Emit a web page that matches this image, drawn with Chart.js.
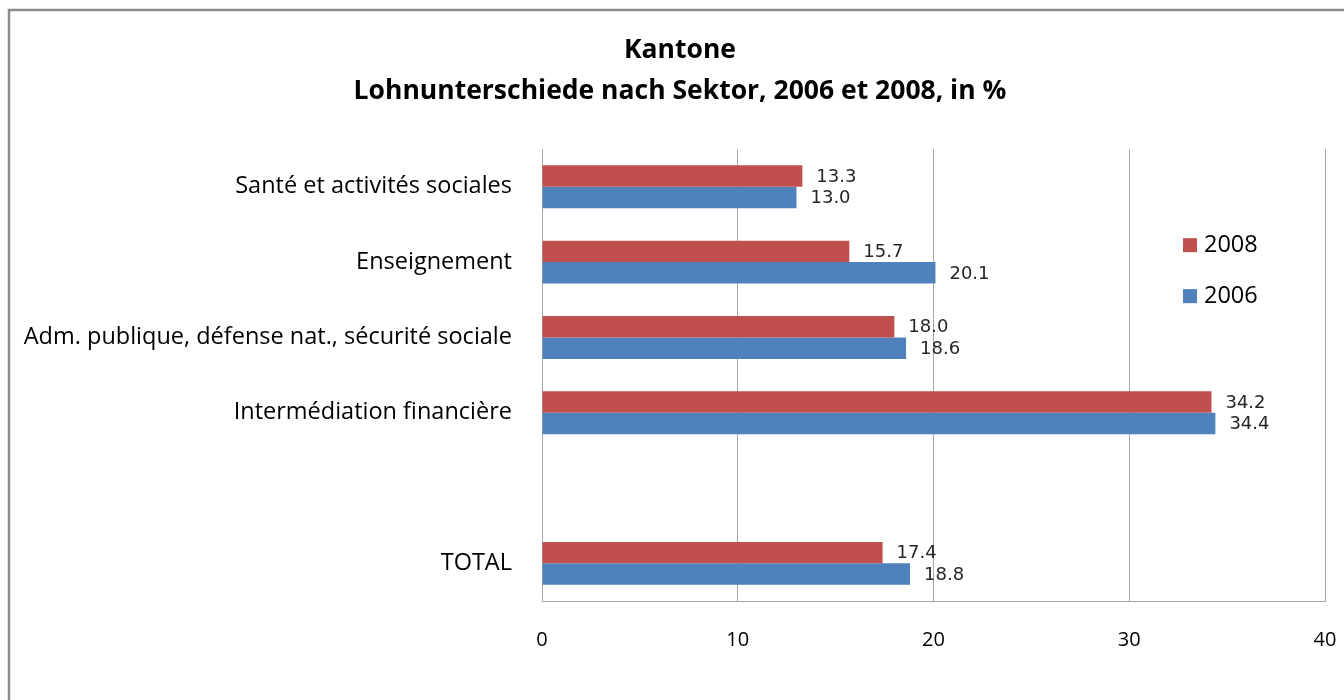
<!DOCTYPE html>
<html>
<head>
<meta charset="utf-8">
<script src="https://cdn.jsdelivr.net/npm/chart.js@4.4.0/dist/chart.umd.min.js"></script>
<style>
  body { margin: 0; background: #fff; }
  canvas { display: block; }
</style>
</head>
<body>
<canvas id="myChart" width="1344" height="700"></canvas>
<script>
const categories = ['Santé et activités sociales', 'Enseignement', 'Adm. publique, défense nat., sécurité sociale', 'Intermédiation financière', '', 'TOTAL'];
const values2008 = [13.3, 15.7, 18.0, 34.2, null, 17.4];
const values2006 = [13.0, 20.1, 18.6, 34.4, null, 18.8];
const seriesNames = ['2008', '2006'];
const xTicks = [0, 10, 20, 30, 40];

const textFont = '"Open Sans"';

// grey frame round the whole chart
const framePlugin = {
    id: 'frame',
    beforeDraw(chart) {
        const ctx = chart.ctx;
        ctx.save();
        ctx.fillStyle = '#fff';
        ctx.fillRect(0, 0, chart.width, chart.height);
        ctx.strokeStyle = '#8c8c8c';
        ctx.lineWidth = 2.5;
        ctx.strokeRect(9, 10, 1400, 800);
        ctx.restore();
    }
};

// the frame goes on past the right edge, so the title sits a bit right of the middle
const titleShift = {
    id: 'titleShift',
    afterLayout(chart) {
        if (chart.titleBlock) chart.titleBlock.left = 35;
    }
};

// value labels at the end of each bar
const valueLabels = {
    id: 'valueLabels',
    afterDatasetsDraw(chart) {
        const ctx = chart.ctx;
        ctx.save();
        ctx.font = '18px "DejaVu Sans"';
        ctx.fillStyle = '#262626';
        ctx.textAlign = 'left';
        ctx.textBaseline = 'middle';
        chart.data.datasets.forEach((ds, i) => {
            chart.getDatasetMeta(i).data.forEach((bar, j) => {
                const v = ds.data[j];
                if (v === null) return;
                ctx.fillText(v.toFixed(1), bar.x + 14, bar.y + 1);
            });
        });
        ctx.restore();
    }
};

// legend drawn inside the plot area on the right
const innerLegend = {
    id: 'innerLegend',
    afterDraw(chart) {
        const ctx = chart.ctx;
        const area = chart.chartArea;
        ctx.save();
        ctx.font = '23.5px ' + textFont;
        ctx.textBaseline = 'middle';
        ctx.textAlign = 'left';
        chart.data.datasets.forEach((ds, i) => {
            const x = area.right - 142;
            const y = area.top + 96 + i * 51;
            ctx.fillStyle = ds.backgroundColor;
            ctx.fillRect(x, y - 7, 14, 14);
            ctx.fillStyle = '#000';
            ctx.fillText(ds.label, x + 21, y);
        });
        ctx.restore();
    }
};

const ctx = document.getElementById('myChart');

new Chart(ctx, {
    type: 'bar',
    data: {
        labels: categories,
        datasets: [{
            label: seriesNames[0],
            data: values2008,
            backgroundColor: '#C0504D',
            categoryPercentage: 0.57,
            barPercentage: 1
        }, {
            label: seriesNames[1],
            data: values2006,
            backgroundColor: '#4F81BD',
            categoryPercentage: 0.57,
            barPercentage: 1
        }]
    },
    options: {
        indexAxis: 'y',
        responsive: false,
        animation: false,
        layout: {
            padding: { left: 0, right: 19, top: 0, bottom: 0 }
        },
        plugins: {
            legend: { display: false },
            tooltip: { enabled: false },
            title: {
                display: true,
                text: ['Kantone', 'Lohnunterschiede nach Sektor, 2006 et 2008, in %'],
                color: '#000',
                font: { family: textFont, size: 26.5, weight: 'bold', lineHeight: 1.55 },
                padding: { top: 30, bottom: 37 }
            }
        },
        scales: {
            x: {
                min: 0,
                max: 40,
                afterBuildTicks: function (scale) {
                    scale.ticks = xTicks.map(v => ({ value: v }));
                },
                afterFit: function (scale) {
                    scale.height = 99;
                    scale.paddingLeft = 0;
                    scale.paddingRight = 0;
                },
                grid: { color: '#a6a6a6', drawTicks: false },
                border: { display: true, color: '#a6a6a6' },
                ticks: {
                    color: '#000',
                    font: { family: textFont, size: 20 },
                    padding: 27
                }
            },
            y: {
                grid: { display: false, drawTicks: false },
                border: { display: true, color: '#a6a6a6' },
                afterFit: function (scale) {
                    scale.width = 542;
                },
                ticks: {
                    color: '#000',
                    font: { family: textFont, size: 23.5 },
                    padding: 30
                }
            }
        }
    },
    plugins: [framePlugin, titleShift, valueLabels, innerLegend]
});
</script>
</body>
</html>
